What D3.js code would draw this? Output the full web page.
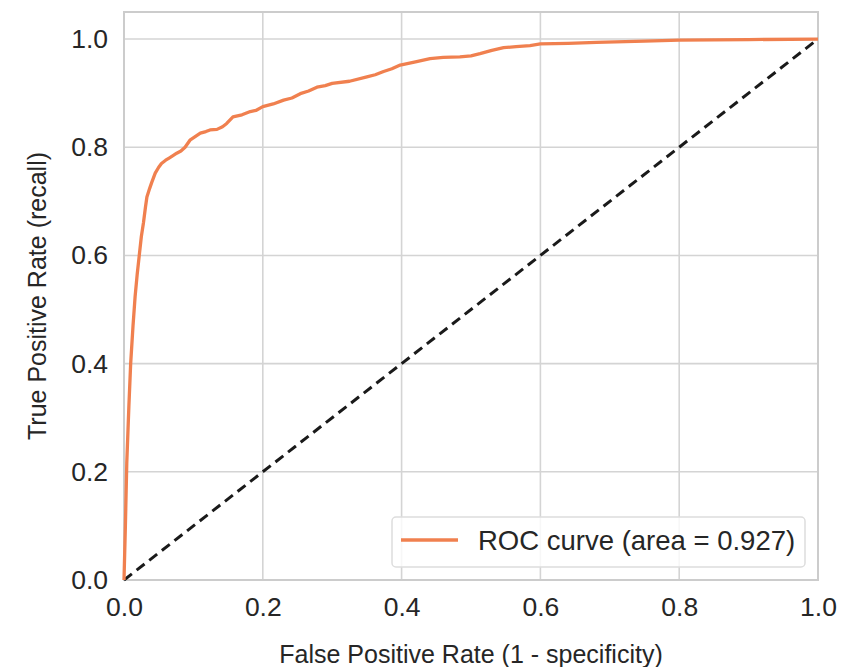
<!DOCTYPE html>
<html>
<head>
<meta charset="utf-8">
<script src="https://cdn.jsdelivr.net/npm/d3@7"></script>
<style>
  body { margin: 0; background: #fff; }
  svg text { font-family: "Liberation Sans", Arial, sans-serif; fill: #262626; }
</style>
</head>
<body>
<svg id="chart" width="841" height="667"></svg>
<script>
// ROC points
const fpr = [0, 0.002, 0.004, 0.007, 0.0096, 0.013, 0.016, 0.019, 0.022, 0.025, 0.028, 0.031, 0.033, 0.037,
  0.04, 0.045, 0.05, 0.054, 0.06, 0.065, 0.07, 0.076, 0.082, 0.088,
  0.095, 0.102, 0.11, 0.118, 0.124, 0.134, 0.142, 0.148, 0.157, 0.17, 0.182, 0.19, 0.2, 0.215, 0.23, 0.242, 0.254,
  0.266, 0.278, 0.29, 0.30, 0.325, 0.35, 0.362, 0.374, 0.386, 0.398, 0.42, 0.441, 0.46, 0.484, 0.5, 0.513, 0.53,
  0.547, 0.565, 0.585, 0.6, 0.64, 0.681, 0.75, 0.80, 0.9, 1.0];
const tpr = [0, 0.1, 0.216, 0.32, 0.40, 0.47, 0.524, 0.565, 0.60, 0.635, 0.66, 0.69, 0.708, 0.724,
  0.735, 0.752, 0.763, 0.77, 0.776, 0.78, 0.784, 0.789, 0.793, 0.80,
  0.813, 0.819, 0.826, 0.829, 0.832, 0.833, 0.838, 0.844, 0.856, 0.86, 0.866, 0.868, 0.875, 0.88, 0.887, 0.891, 0.899,
  0.904, 0.911, 0.914, 0.918, 0.922, 0.93, 0.934, 0.94, 0.945, 0.952, 0.958, 0.964, 0.966, 0.967, 0.969, 0.973, 0.979,
  0.984, 0.986, 0.988, 0.991, 0.992, 0.994, 0.996, 0.998, 0.999, 1.0];
const chance = [0, 1];
const xTicks = [0, 0.2, 0.4, 0.6, 0.8, 1.0];
const yTicks = [0, 0.2, 0.4, 0.6, 0.8, 1.0];
const legendLabel = "ROC curve (area = 0.927)";

const margin = { left: 124, right: 23, top: 12, bottom: 87 };
const width = 841, height = 667;

const svg = d3.select('#chart');

const x = d3.scaleLinear().domain([0, 1]).range([margin.left, width - margin.right]);
const y = d3.scaleLinear().domain([0, 1.05]).range([height - margin.bottom, margin.top]);

// grid
svg.append('g')
  .selectAll('line.vx')
  .data(xTicks)
  .enter()
  .append('line')
  .attr('x1', d => x(d)).attr('x2', d => x(d))
  .attr('y1', y(0)).attr('y2', y(1.05))
  .attr('stroke', '#d4d4d4')
  .attr('stroke-width', 1.6);

svg.append('g')
  .selectAll('line.hy')
  .data(yTicks)
  .enter()
  .append('line')
  .attr('x1', x(0)).attr('x2', x(1))
  .attr('y1', d => y(d)).attr('y2', d => y(d))
  .attr('stroke', '#d4d4d4')
  .attr('stroke-width', 1.6);

// axes, ticks drawn without tick marks
const xAxis = svg.append('g')
  .attr('transform', `translate(0,${y(0)})`)
  .call(d3.axisBottom(x).tickValues(xTicks).tickFormat(d3.format('.1f')).tickSize(0).tickPadding(17));
const yAxis = svg.append('g')
  .attr('transform', `translate(${x(0)},0)`)
  .call(d3.axisLeft(y).tickValues(yTicks).tickFormat(d3.format('.1f')).tickSize(0).tickPadding(16));

[xAxis, yAxis].forEach(g => {
  g.select('.domain').remove();
  g.selectAll('text')
    .attr('font-size', 26.5)
    .attr('font-family', '"Liberation Sans", Arial, sans-serif')
    .attr('fill', '#262626');
});

// frame
svg.append('rect')
  .attr('x', x(0)).attr('y', y(1.05))
  .attr('width', x(1) - x(0)).attr('height', y(0) - y(1.05))
  .attr('fill', 'none')
  .attr('stroke', '#cccccc')
  .attr('stroke-width', 2);

// chance line
svg.append('line')
  .attr('x1', x(chance[0])).attr('y1', y(chance[0]))
  .attr('x2', x(chance[1])).attr('y2', y(chance[1]))
  .attr('stroke', '#1a1a1a')
  .attr('stroke-width', 3)
  .attr('stroke-dasharray', '10,6');

// roc curve
const rocLine = d3.line()
  .x((d, i) => x(fpr[i]))
  .y((d, i) => y(tpr[i]));

svg.append('path')
  .datum(fpr)
  .attr('d', rocLine)
  .attr('fill', 'none')
  .attr('stroke', '#f0804f')
  .attr('stroke-width', 3.3)
  .attr('stroke-linejoin', 'round');

// legend
const legend = svg.append('g');
legend.append('rect')
  .attr('x', 392).attr('y', 517)
  .attr('width', 413).attr('height', 50)
  .attr('rx', 4)
  .attr('fill', '#fff')
  .attr('fill-opacity', 0.8)
  .attr('stroke', '#dddddd')
  .attr('stroke-width', 1.5);
legend.append('line')
  .attr('x1', 401).attr('x2', 458)
  .attr('y1', 540).attr('y2', 540)
  .attr('stroke', '#f0804f')
  .attr('stroke-width', 3.3);
legend.append('text')
  .attr('x', 478).attr('y', 550)
  .attr('font-size', 27.5)
  .text(legendLabel);

// axis labels
svg.append('text')
  .attr('x', (x(0) + x(1)) / 2)
  .attr('y', 663)
  .attr('text-anchor', 'middle')
  .attr('font-size', 25)
  .text('False Positive Rate (1 - specificity)');

svg.append('text')
  .attr('transform', `translate(46,${(y(0) + y(1.05)) / 2}) rotate(-90)`)
  .attr('text-anchor', 'middle')
  .attr('font-size', 25)
  .text('True Positive Rate (recall)');
</script>
</body>
</html>
